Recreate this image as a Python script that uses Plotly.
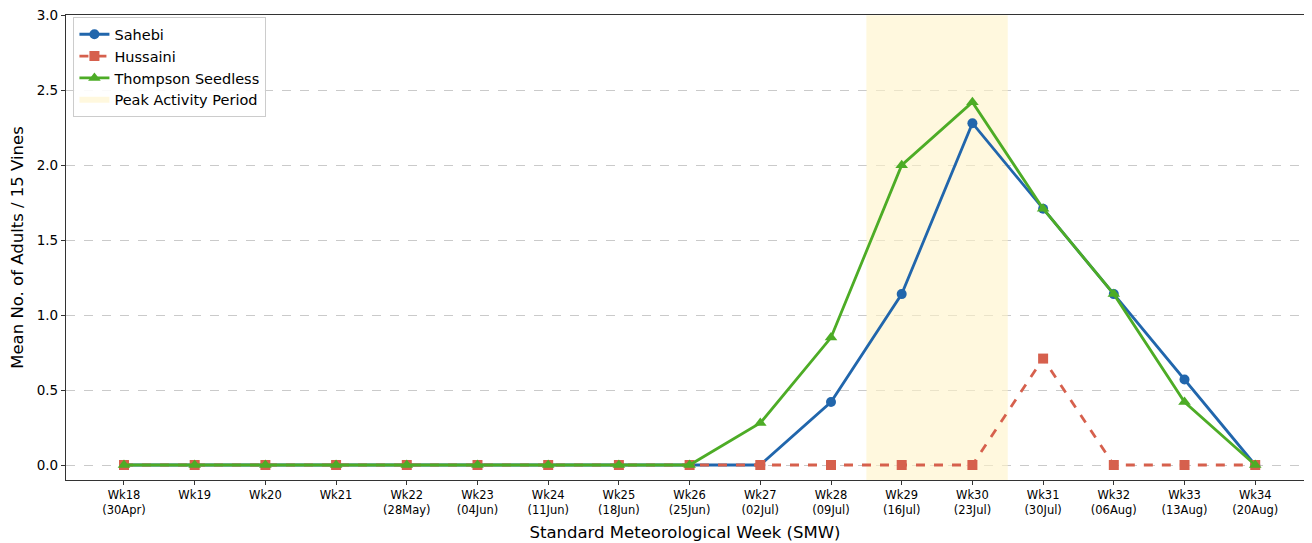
import plotly.graph_objects as go

weeks = list(range(18, 35))
tick_labels = ["Wk18<br>(30Apr)", "Wk19", "Wk20", "Wk21", "Wk22<br>(28May)", "Wk23<br>(04Jun)",
               "Wk24<br>(11Jun)", "Wk25<br>(18Jun)", "Wk26<br>(25Jun)", "Wk27<br>(02Jul)",
               "Wk28<br>(09Jul)", "Wk29<br>(16Jul)", "Wk30<br>(23Jul)", "Wk31<br>(30Jul)",
               "Wk32<br>(06Aug)", "Wk33<br>(13Aug)", "Wk34<br>(20Aug)"]
sahebi = [0, 0, 0, 0, 0, 0, 0, 0, 0, 0, 0.42, 1.14, 2.28, 1.71, 1.14, 0.57, 0]
hussaini = [0, 0, 0, 0, 0, 0, 0, 0, 0, 0, 0, 0, 0, 0.71, 0, 0, 0]
thompson = [0, 0, 0, 0, 0, 0, 0, 0, 0, 0.28, 0.85, 2.0, 2.42, 1.71, 1.14, 0.42, 0]
y_ticks = [0, 0.5, 1.0, 1.5, 2.0, 2.5, 3.0]
y_tick_labels = ["0.0", "0.5", "1.0", "1.5", "2.0", "2.5", "3.0"]
peak_start, peak_end = 28.5, 30.5
y_min, y_max = -0.1, 3.0

fig = go.Figure()
fig.add_trace(go.Scatter(
    x=[peak_start, peak_end, peak_end, peak_start, peak_start],
    y=[y_min, y_min, y_max, y_max, y_min],
    fill="toself", fillcolor="rgba(255,243,200,0.6)", mode="none",
    name="Peak Activity Period", legendrank=4, hoverinfo="skip"))
fig.add_trace(go.Scatter(x=weeks, y=sahebi, name="Sahebi", mode="lines+markers",
                         line=dict(color="#2166ac", width=2.8),
                         marker=dict(symbol="circle", size=10, color="#2166ac"), legendrank=1))
fig.add_trace(go.Scatter(x=weeks, y=hussaini, name="Hussaini", mode="lines+markers",
                         line=dict(color="#d6604d", width=2.8, dash="dash"),
                         marker=dict(symbol="square", size=10, color="#d6604d"), legendrank=2))
fig.add_trace(go.Scatter(x=weeks, y=thompson, name="Thompson Seedless", mode="lines+markers",
                         line=dict(color="#4dac26", width=2.8),
                         marker=dict(symbol="triangle-up", size=11, color="#4dac26"), legendrank=3))

fig.update_layout(
    width=1296, height=543,
    margin=dict(l=58, r=0, t=7, b=71),
    plot_bgcolor="white", paper_bgcolor="white",
    font=dict(family="DejaVu Sans", color="black"),
    showlegend=True,
    legend=dict(x=0.006, y=0.995, xanchor="left", yanchor="top",
                bgcolor="rgba(255,255,255,0.9)", bordercolor="#cccccc", borderwidth=1,
                font=dict(size=14.5), tracegroupgap=2),
    xaxis=dict(range=[17.18, 34.69], tickmode="array", tickvals=weeks, ticktext=tick_labels,
               tickfont=dict(size=11.5), ticks="outside", ticklen=4, tickcolor="#333",
               showgrid=False, zeroline=False, showline=True, linecolor="#333", linewidth=1.2,
               mirror=True, automargin=False, ticklabeloverflow="allow",
               title=dict(text="Standard Meteorological Week (SMW)", font=dict(size=16.5), standoff=10)),
    yaxis=dict(range=[y_min, y_max + 0.002], tickmode="array", tickvals=y_ticks, ticktext=y_tick_labels,
               tickfont=dict(size=13.5), ticks="outside", ticklen=4, tickcolor="#333",
               showgrid=True, gridcolor="rgba(180,180,180,0.7)", griddash="dash", gridwidth=1,
               zeroline=False, showline=True, linecolor="#333", linewidth=1.2, mirror=True,
               automargin=False, ticklabeloverflow="allow",
               title=dict(text="Mean No. of Adults / 15 Vines", font=dict(size=16.5), standoff=9)),
)

fig.write_html("out.html")
